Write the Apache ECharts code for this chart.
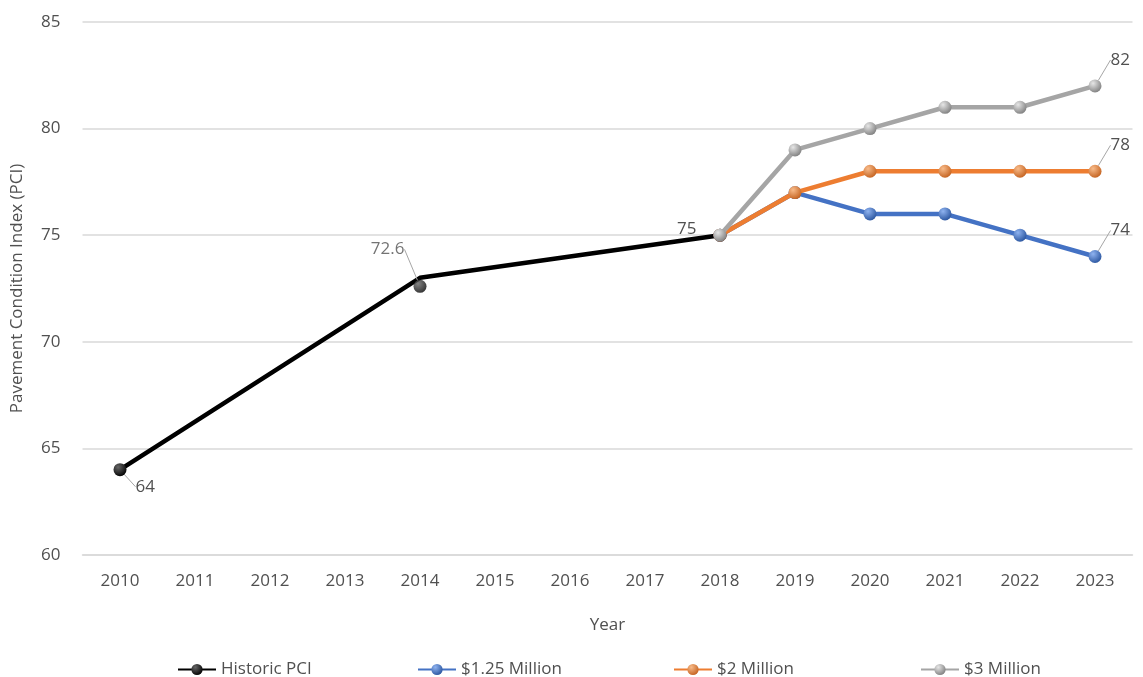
<!DOCTYPE html>
<html>
<head>
<meta charset="utf-8">
<script src="https://cdn.jsdelivr.net/npm/echarts@6/dist/echarts.min.js"></script>
<style>
  html, body { margin: 0; padding: 0; background: #fff; }
  #chart { width: 1143px; height: 677px; }
</style>
</head>
<body>
<div id="chart"></div>
<script>
const years = ['2010', '2011', '2012', '2013', '2014', '2015', '2016', '2017', '2018', '2019', '2020', '2021', '2022', '2023'];
const historicPci = [64, null, null, null, 73, null, null, null, 75, null, null, null, null, null];
const historicPoint2014 = 72.6;
const million125 = [null, null, null, null, null, null, null, null, 75, 77, 76, 76, 75, 74];
const million2 = [null, null, null, null, null, null, null, null, 75, 77, 78, 78, 78, 78];
const million3 = [null, null, null, null, null, null, null, null, 75, 79, 80, 81, 81, 82];
const yTicks = [60, 65, 70, 75, 80, 85];

const chart = echarts.init(document.getElementById('chart'));
const font = '"Open Sans", sans-serif';
const textGrey = '#505050';

// shaded ball markers, like the original
function ball(light, dark) {
    return new echarts.graphic.RadialGradient(0.35, 0.3, 0.75, [
        { offset: 0, color: light },
        { offset: 1, color: dark }
    ]);
}

const labelText = { color: textGrey, fontSize: 17, fontFamily: font };
const leader = { show: true, lineStyle: { color: '#a6a6a6', width: 1 } };

// only the last point of each budget scenario gets a label
function withLastLabel(values) {
    return values.map((v, i) => (i === values.length - 1
        ? { value: v, label: { show: true, position: 'right', ...labelText }, labelLine: leader }
        : v));
}

const historicData = historicPci.map((v, i) => {
    if (i === 0) {
        return { value: v, label: { show: true, position: 'right', ...labelText }, labelLine: leader };
    }
    if (i === 4) {
        return { value: v, symbol: 'none' };
    }
    if (i === 8) {
        return { value: v, label: { show: true, position: 'left', ...labelText } };
    }
    return v;
});

const legendBase = {
    top: 656,
    itemWidth: 38,
    itemHeight: 14,
    itemGap: 0,
    textStyle: { color: textGrey, fontSize: 17, fontFamily: font }
};

const option = {
    backgroundColor: '#fff',
    animation: false,
    grid: { left: 82.5, right: 10.5, top: 22, bottom: 122 },
    legend: [
        { ...legendBase, left: 172, data: ['Historic PCI'] },
        { ...legendBase, left: 412, data: ['$1.25 Million'] },
        { ...legendBase, left: 668, data: ['$2 Million'] },
        { ...legendBase, left: 915, data: ['$3 Million'] }
    ],
    xAxis: {
        type: 'category',
        data: years,
        name: 'Year',
        nameLocation: 'middle',
        nameGap: 62,
        nameTextStyle: { color: textGrey, fontSize: 17, fontFamily: font },
        axisLine: { lineStyle: { color: '#d9d9d9', width: 1.5 } },
        axisTick: { show: false },
        axisLabel: { color: textGrey, fontSize: 17, fontFamily: font, margin: 18 }
    },
    yAxis: {
        type: 'value',
        min: yTicks[0],
        max: yTicks[yTicks.length - 1],
        interval: 5,
        name: 'Pavement Condition Index (PCI)',
        nameLocation: 'middle',
        nameGap: 57,
        nameTextStyle: { color: textGrey, fontSize: 17, fontFamily: font },
        axisLine: { show: false },
        axisTick: { show: false },
        axisLabel: { color: textGrey, fontSize: 17, fontFamily: font, margin: 22 },
        splitLine: { lineStyle: { color: '#d9d9d9', width: 1.5 } }
    },
    series: [
        {
            name: 'Historic PCI',
            type: 'line',
            data: historicData,
            connectNulls: true,
            symbol: 'circle',
            symbolSize: 13,
            lineStyle: { color: '#000', width: 4.5 },
            itemStyle: { color: ball('#666', '#000') },
            z: 2,
            labelLayout: p => (p.dataIndex === 0 ? { dx: 4, dy: 17 }
                : p.dataIndex === 8 ? { dx: -12, dy: -6 } : {})
        },
        {
            name: 'Historic PCI',
            type: 'scatter',
            data: [[4, historicPoint2014]],
            symbol: 'circle',
            symbolSize: 13,
            itemStyle: { color: ball('#666', '#000') },
            z: 3,
            label: {
                show: true,
                position: 'left',
                formatter: '72.6',
                ...labelText
            },
            labelLayout: { dx: -4, dy: -37 },
            labelLine: leader
        },
        {
            name: '$1.25 Million',
            type: 'line',
            data: withLastLabel(million125),
            symbol: 'circle',
            symbolSize: 13,
            lineStyle: { color: '#4472c4', width: 4.5 },
            itemStyle: { color: ball('#8fb3f0', '#2a559f') },
            z: 4,
            labelLayout: { dx: 4, dy: -26 }
        },
        {
            name: '$2 Million',
            type: 'line',
            data: withLastLabel(million2),
            symbol: 'circle',
            symbolSize: 13,
            lineStyle: { color: '#ed7d31', width: 4.5 },
            itemStyle: { color: ball('#f8bb8a', '#c4621f') },
            z: 5,
            labelLayout: { dx: 4, dy: -26 }
        },
        {
            name: '$3 Million',
            type: 'line',
            data: withLastLabel(million3),
            symbol: 'circle',
            symbolSize: 13,
            lineStyle: { color: '#a5a5a5', width: 4.5 },
            itemStyle: { color: ball('#e6e6e6', '#7f7f7f') },
            z: 6,
            labelLayout: { dx: 4, dy: -26 }
        }
    ]
};

chart.setOption(option);

window.addEventListener('resize', function() {
    chart.resize();
});
</script>
</body>
</html>
